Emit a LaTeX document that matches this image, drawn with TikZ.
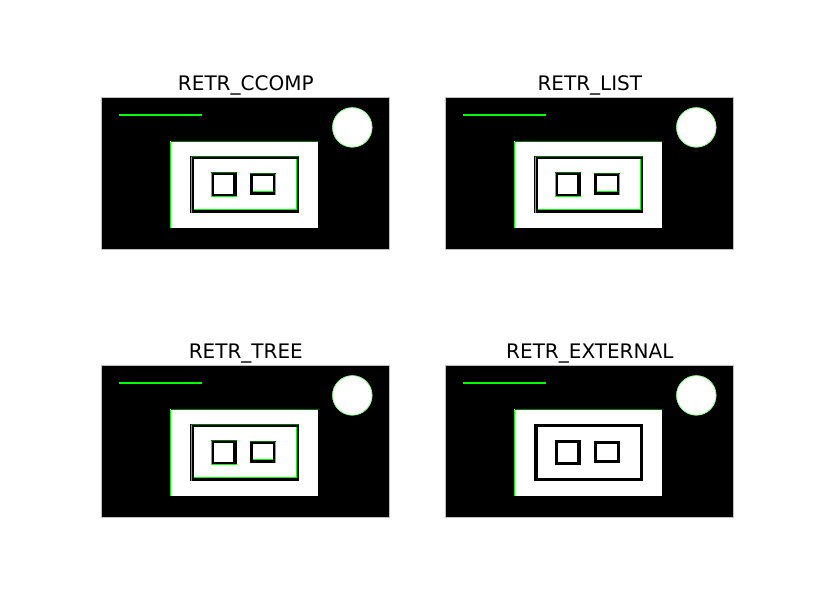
\documentclass[tikz,border=0pt]{standalone}
\usepackage{fontspec}
\setmainfont{DejaVu Sans}
\definecolor{cgreen}{RGB}{0,255,0}
\definecolor{dgreen}{RGB}{0,110,0}
\definecolor{lgreen}{RGB}{120,255,120}
\tikzset{
  x=0.75pt, y=-0.75pt,
  panelbg/.style={fill=black},
  panelrim/.style={draw=black!25, line width=0.75pt},
  whiteshape/.style={fill=white},
  ring/.style={draw=black, line width=2.3pt},
  cont/.style={draw=cgreen, line width=0.75pt},
  dcont/.style={draw=dgreen, line width=0.75pt},
  circcont/.style={draw=lgreen, line width=0.5pt},
  thickcont/.style={draw=cgreen, line width=1.5pt},
  titletext/.style={font=\fontsize{15}{17}\selectfont, anchor=base, inner sep=0pt},
}
\newcommand\retrpanel[5]{%
\begin{scope}[shift={(#1,#2)}]
  \fill[panelbg] (0,0) rectangle (288,152);
  \draw[panelrim] (0,0) rectangle (288,152);
  % white line (contour drawn over it)
  \draw[thickcont] (17.2,17.6) -- (99.8,17.6);
  % circle
  \fill[whiteshape] (250.5,29.7) circle (20);
  \draw[circcont] (250.5,29.7) circle (19.7);
  % outer white rectangle
  \fill[whiteshape] (68.2,43.5) rectangle (216.2,130);
  \draw[cont] (68.7,130) -- (68.7,43.9);
  \draw[dcont] (68.7,43.9) -- (216.2,43.9);
  % frame
  \draw[ring] (90.2,59.8) rectangle (195.8,114.2);
  % small squares
  \draw[ring] (110.5,75.8) rectangle (133.2,97.8);
  \draw[ring] (149.5,77.2) rectangle (172.5,96.2);
  \ifnum#5=1
    \draw[cont] (89.2,58.3) -- (89.2,115.7);
    \draw[dcont] (88.7,58.8) -- (197.3,58.8);
    \draw[cont] (91.7,112.2) -- (194.3,112.2) -- (194.3,61.3);
    \draw[cont] (109.5,74.3) -- (109.5,98.8) -- (134.7,98.8);
    \draw[dcont] (109,74.8) -- (134.7,74.8);
    \draw[cont] (173.5,75.7) -- (173.5,97.7);
    \draw[cont] (151,94.2) -- (171,94.2);
    \draw[dcont] (148,76.2) -- (174,76.2);
  \fi
\end{scope}
\node[titletext] (#4) at (#1+144,#2-7.3) {#3};
}
\begin{document}
\begin{tikzpicture}
\useasboundingbox[fill=white] (0,0) rectangle (815,615);
\retrpanel{101.8}{97.7}{RETR\_CCOMP}{tccomp}{1}
\retrpanel{445.8}{97.7}{RETR\_LIST}{tlist}{1}
\retrpanel{101.8}{365.7}{RETR\_TREE}{ttree}{1}
\retrpanel{445.8}{365.7}{RETR\_EXTERNAL}{texternal}{0}
\end{tikzpicture}
\end{document}
